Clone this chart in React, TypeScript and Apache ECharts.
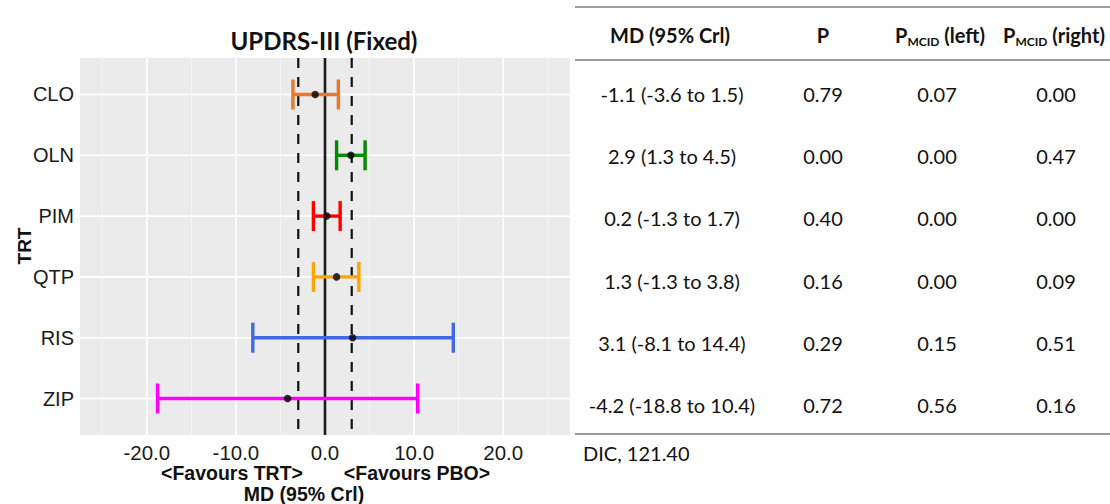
import React, { useEffect, useRef } from "react";
import * as echarts from "echarts";

// ---- data ----
const treatments = ["CLO", "OLN", "PIM", "QTP", "RIS", "ZIP"];
const meanDiff = [-1.1, 2.9, 0.2, 1.3, 3.1, -4.2];
const lowerCrI = [-3.6, 1.3, -1.3, -1.3, -8.1, -18.8];
const upperCrI = [1.5, 4.5, 1.7, 3.8, 14.4, 10.4];
const probP = ["0.79", "0.00", "0.40", "0.16", "0.29", "0.72"];
const probMcidLeft = ["0.07", "0.00", "0.00", "0.00", "0.15", "0.56"];
const probMcidRight = ["0.00", "0.47", "0.00", "0.09", "0.51", "0.16"];
const barColors = ["#E8792C", "#008B00", "#FF0000", "#FFA500", "#4169E1", "#FF00FF"];
const mcid = 3;
const xMajorTicks = [-20, -10, 0, 10, 20];
const xMinorTicks = [-25, -15, -5, 5, 15, 25];
const xLimits = [-27.5, 27.5];
const dicLabel = "DIC, 121.40";

const yPositions = treatments.map((_, i) => i + 1);
const yLimits = [0.4, treatments.length + 0.6];

const PLOT_FONT = "Liberation Sans";
const TABLE_FONT = "Lato";

export default function App() {
  const ref = useRef<HTMLDivElement>(null);

  useEffect(() => {
    if (!ref.current) return;
    const chart = echarts.init(ref.current, null, { renderer: "svg" });

    const gridV = [
      ...xMajorTicks.map((v) => [v, yLimits[0], yLimits[1], 1]),
      ...xMinorTicks.map((v) => [v, yLimits[0], yLimits[1], 0]),
    ];
    const gridH = yPositions.map((y) => [xLimits[0], xLimits[1], y]);
    const refLines = [
      [-mcid, yLimits[0], yLimits[1], 0],
      [0, yLimits[0], yLimits[1], 1],
      [mcid, yLimits[0], yLimits[1], 0],
    ];
    const bars = treatments.map((_, i) => [lowerCrI[i], upperCrI[i], i + 1]);
    const points = treatments.map((_, i) => [meanDiff[i], i + 1]);

    const colX = [672, 823, 939, 1056];
    const headerY = 35;
    const rowY0 = 94;
    const rowStep = 62.2;
    const tableLeft = 575;
    const tableRight = 1110;
    const txt = (text: string, x: number, y: number, font: string, align = "center", extra: any = {}) => ({
      type: "text",
      x,
      y,
      silent: true,
      ...extra,
      style: { text, font, fill: "#111", align, verticalAlign: "middle" },
    });
    const richHeader = (suffix: string, x: number) => ({
      type: "text",
      x,
      y: headerY,
      silent: true,
      style: {
        text: `{b|P}{s|MCID}{b|${suffix}}`,
        align: "center",
        verticalAlign: "middle",
        fill: "#111",
        rich: {
          b: { fontFamily: TABLE_FONT, fontWeight: "bold", fontSize: 20, lineHeight: 24, fill: "#111" },
          s: { fontFamily: TABLE_FONT, fontWeight: "bold", fontSize: 12, lineHeight: 18, verticalAlign: "bottom", fill: "#111" },
        },
      },
    });
    const hline = (y: number) => ({
      type: "line",
      silent: true,
      shape: { x1: tableLeft, y1: y, x2: tableRight, y2: y },
      style: { stroke: "#7a7a7a", lineWidth: 1.5 },
    });

    const tableCells: any[] = [];
    treatments.forEach((_, i) => {
      const y = rowY0 + i * rowStep;
      const md = `${meanDiff[i].toFixed(1)} (${lowerCrI[i].toFixed(1)} to ${upperCrI[i].toFixed(1)})`;
      tableCells.push(txt(md, colX[0], y, `20px ${TABLE_FONT}`));
      tableCells.push(txt(probP[i], colX[1], y, `20px ${TABLE_FONT}`));
      tableCells.push(txt(probMcidLeft[i], colX[2] - 2, y, `20px ${TABLE_FONT}`));
      tableCells.push(txt(probMcidRight[i], colX[3], y, `20px ${TABLE_FONT}`));
    });

    const option: any = {
      animation: false,
      backgroundColor: "#ffffff",
      grid: {
        left: 80,
        right: 540,
        top: 58,
        bottom: 69,
        show: true,
        backgroundColor: "#EBEBEB",
        borderWidth: 0,
      },
      xAxis: {
        type: "value",
        min: xLimits[0],
        max: xLimits[1],
        axisLine: { show: false },
        axisTick: { show: false },
        splitLine: { show: false },
        axisLabel: {
          customValues: xMajorTicks,
          formatter: (v: number) => v.toFixed(1),
          fontSize: 20.5,
          fontFamily: PLOT_FONT,
          color: "#1a1a1a",
          margin: 7,
        },
      },
      yAxis: {
        type: "value",
        inverse: true,
        min: yLimits[0],
        max: yLimits[1],
        axisLine: { show: false },
        axisTick: { show: true, customValues: yPositions, length: 4, lineStyle: { color: "#333", width: 1 } },
        splitLine: { show: false },
        axisLabel: {
          customValues: yPositions,
          formatter: (v: number) => treatments[Math.round(v) - 1] ?? "",
          fontSize: 20,
          fontFamily: PLOT_FONT,
          color: "#1a1a1a",
          margin: 6,
        },
      },
      series: [
        {
          type: "custom",
          silent: true,
          z: 1,
          data: gridV,
          encode: { x: 0, y: [1, 2] },
          renderItem: (params: any, api: any) => {
            const x = api.value(0);
            const a = api.coord([x, api.value(1)]);
            const b = api.coord([x, api.value(2)]);
            const major = api.value(3) === 1;
            return {
              type: "line",
              shape: { x1: a[0], y1: a[1], x2: b[0], y2: b[1] },
              style: { stroke: major ? "#ffffff" : "#F6F6F6", lineWidth: major ? 1.6 : 0.9 },
            };
          },
        },
        {
          type: "custom",
          silent: true,
          z: 1,
          data: gridH,
          encode: { x: [0, 1], y: 2 },
          renderItem: (params: any, api: any) => {
            const y = api.value(2);
            const a = api.coord([api.value(0), y]);
            const b = api.coord([api.value(1), y]);
            return {
              type: "line",
              shape: { x1: a[0], y1: a[1], x2: b[0], y2: b[1] },
              style: { stroke: "#ffffff", lineWidth: 1.6 },
            };
          },
        },
        {
          type: "custom",
          silent: true,
          z: 2,
          data: refLines,
          encode: { x: 0, y: [1, 2] },
          renderItem: (params: any, api: any) => {
            const x = api.value(0);
            const a = api.coord([x, api.value(1)]);
            const b = api.coord([x, api.value(2)]);
            const solid = api.value(3) === 1;
            return {
              type: "line",
              shape: { x1: a[0], y1: a[1], x2: b[0], y2: b[1] },
              style: solid
                ? { stroke: "#1a1a1a", lineWidth: 2.6 }
                : { stroke: "#111", lineWidth: 2.2, lineDash: [10, 9] },
            };
          },
        },
        {
          type: "custom",
          silent: true,
          z: 3,
          data: bars,
          encode: { x: [0, 1], y: 2 },
          renderItem: (params: any, api: any) => {
            const y = api.value(2);
            const a = api.coord([api.value(0), y]);
            const b = api.coord([api.value(1), y]);
            const color = barColors[params.dataIndex];
            const half = 15;
            const st = { stroke: color, lineWidth: 3.4 };
            return {
              type: "group",
              children: [
                { type: "line", shape: { x1: a[0], y1: a[1], x2: b[0], y2: b[1] }, style: st },
                { type: "line", shape: { x1: a[0], y1: a[1] - half, x2: a[0], y2: a[1] + half }, style: st },
                { type: "line", shape: { x1: b[0], y1: b[1] - half, x2: b[0], y2: b[1] + half }, style: st },
              ],
            };
          },
        },
        {
          type: "scatter",
          silent: true,
          z: 4,
          data: points,
          symbol: "circle",
          symbolSize: 7.5,
          itemStyle: { color: "#000" },
        },
      ],
      graphic: [
        txt("UPDRS-III (Fixed)", 324, 40, `bold 24px ${TABLE_FONT}`),
        txt("TRT", 24, 246, `bold 19px ${PLOT_FONT}`, "center", { rotation: Math.PI / 2 }),
        txt("<Favours TRT>", 232, 473, `bold 19.5px ${PLOT_FONT}`),
        txt("<Favours PBO>", 417, 473, `bold 19.5px ${PLOT_FONT}`),
        txt("MD (95% Crl)", 304, 494, `bold 19.5px ${PLOT_FONT}`),
        hline(7),
        hline(60),
        hline(434),
        txt("MD (95% Crl)", colX[0] - 2, headerY, `bold 20px ${TABLE_FONT}`),
        txt("P", colX[1], headerY, `bold 20px ${TABLE_FONT}`),
        richHeader(" (left)", 940),
        richHeader(" (right)", 1054),
        ...tableCells,
        txt(dicLabel, 583, 453, `20px ${TABLE_FONT}`, "left"),
      ],
    };

    chart.setOption(option);
    return () => chart.dispose();
  }, []);

  return (
    <div
      ref={ref}
      style={{ position: "absolute", left: 0, top: 0, width: 1110, height: 504, background: "#fff" }}
    />
  );
}
